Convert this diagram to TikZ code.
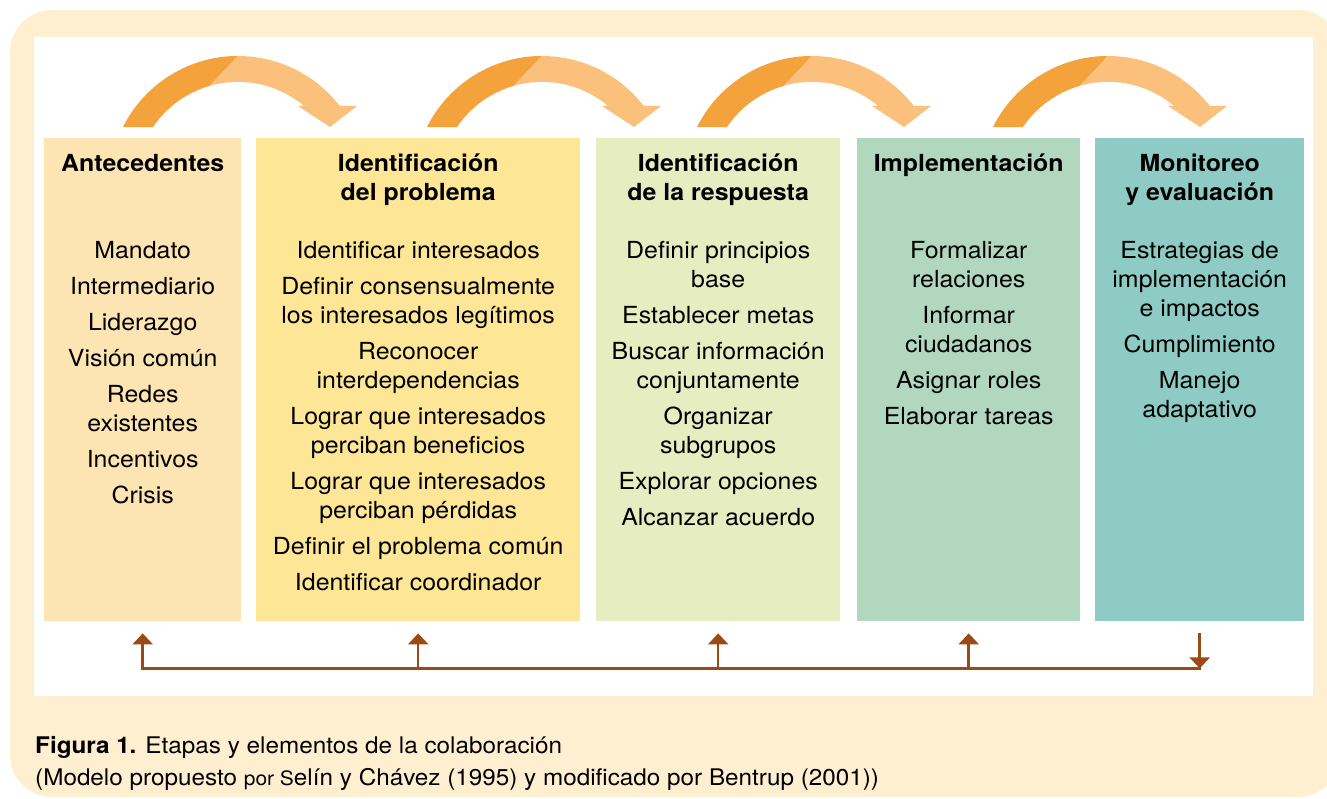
\documentclass[tikz,border=0pt]{standalone}
\usepackage{fontspec}
\setmainfont[FakeStretch=1.06]{TeX Gyre Heros}
\usetikzlibrary{arrows.meta}

\definecolor{cream}{HTML}{FEEFD1}
\definecolor{colA}{HTML}{FDE5B3}
\definecolor{colB}{HTML}{FEE697}
\definecolor{colC}{HTML}{E6EDC0}
\definecolor{colD}{HTML}{B1D8BE}
\definecolor{colE}{HTML}{8DCBC4}
\definecolor{arrdark}{HTML}{F3A23C}
\definecolor{arrlight}{HTML}{FBC07C}
\definecolor{fbbrown}{HTML}{9A4A14}

\begin{document}
\begin{tikzpicture}
  [x=1pt,y=1pt,
   stage/.style={rectangle,anchor=north west,inner sep=0pt,minimum height=483pt},
   head/.style={anchor=north,inner sep=0pt,align=center,font=\bfseries\fontsize{23.5}{29}\selectfont},
   items/.style={anchor=north,inner sep=0pt,align=center,font=\fontsize{23.5}{29}\selectfont},
   caption/.style={anchor=base west,inner sep=0pt,font=\fontsize{22.9}{26}\selectfont},
   fbline/.style={draw=fbbrown,line width=2.5pt},
   fb/.style={fbline,-{Triangle[width=20pt,length=11pt]}}]
  \useasboundingbox (0,0) rectangle (1327,-799);
  \fill[cream,rounded corners=42pt] (10,-10) rectangle (1340,-797);
  \fill[white] (34,-37) rectangle (1313,-696);

  \node (ante) [stage,fill=colA,minimum width=197pt] at (44,-138) {};
  \node (prob) [stage,fill=colB,minimum width=324pt] at (256,-138) {};
  \node (resp) [stage,fill=colC,minimum width=244pt] at (596,-138) {};
  \node (impl) [stage,fill=colD,minimum width=223pt] at (857,-138) {};
  \node (moni) [stage,fill=colE,minimum width=209pt] at (1095,-138) {};

  \node (ante-h) [head] at ([yshift=-16pt]ante.north) {Antecedentes};
  \node (prob-h) [head] at ([yshift=-16pt]prob.north) {Identificación\\del problema};
  \node (resp-h) [head] at ([yshift=-16pt]resp.north) {Identificación\\de la respuesta};
  \node (impl-h) [head] at ([yshift=-16pt]impl.north) {Implementación};
  \node (moni-h) [head] at ([yshift=-16pt]moni.north) {Monitoreo\\y evaluación};

  \node (ante-i) [items] at ([yshift=-103pt]ante.north)
    {Mandato\\[7pt]Intermediario\\[7pt]Liderazgo\\[7pt]Visión común\\[7pt]Redes\\existentes\\[7pt]Incentivos\\[7pt]Crisis};
  \node (prob-i) [items] at ([yshift=-103pt]prob.north)
    {Identificar interesados\\[7pt]Definir consensualmente\\los interesados legítimos\\[7pt]Reconocer\\interdependencias\\[7pt]Lograr que interesados\\perciban beneficios\\[7pt]Lograr que interesados\\perciban pérdidas\\[7pt]Definir el problema común\\[7pt]Identificar coordinador};
  \node (resp-i) [items] at ([yshift=-103pt]resp.north)
    {Definir principios\\base\\[7pt]Establecer metas\\[7pt]Buscar información\\conjuntamente\\[7pt]Organizar\\subgrupos\\[7pt]Explorar opciones\\[7pt]Alcanzar acuerdo};
  \node (impl-i) [items] at ([yshift=-103pt]impl.north)
    {Formalizar\\relaciones\\[7pt]Informar\\ciudadanos\\[7pt]Asignar roles\\[7pt]Elaborar tareas};
  \node (moni-i) [items] at ([yshift=-103pt]moni.north)
    {Estrategias de\\implementación\\e impactos\\[7pt]Cumplimiento\\[7pt]Manejo\\adaptativo};

  % curved arrows between the stages
  \foreach \l in {123,427,697,993} {
    \fill[arrdark] (\l,-127) arc[start angle=153.4,end angle=90,radius=128.6]
      -- (\l+86.7,-85.9) arc[start angle=106,end angle=145.9,radius=102.7] -- cycle;
    \fill[arrlight] (\l+115,-56) arc[start angle=90,end angle=37.7,radius=128.6]
      -- (\l+234,-106) -- (\l+207,-127) -- (\l+175,-106) -- (\l+181.1,-106)
      arc[start angle=49.9,end angle=106,radius=102.7] -- cycle;
  }

  % feedback line
  \foreach \s in {ante,prob,resp,impl,moni} {
    \coordinate (\s-t) at ([yshift=-12pt]\s.south);
    \coordinate (\s-b) at ([yshift=-47pt]\s.south);
  }
  \draw[fbline,line cap=rect] (ante-b) -- (moni-b);
  \foreach \s in {ante,prob,resp,impl}
    \draw[fb] (\s-b) -- (\s-t);
  \draw[fb] (moni-t) -- (moni-b);

  \node (cap1) [caption] at (35,-753)
    {\textbf{Figura 1.} Etapas y elementos de la colaboración};
  \node (cap2) [caption] at (35,-785)
    {(Modelo propuesto {\fontsize{19.8}{22}\selectfont por S}elín y Chávez (1995) y modificado por Bentrup (2001))};
\end{tikzpicture}
\end{document}
